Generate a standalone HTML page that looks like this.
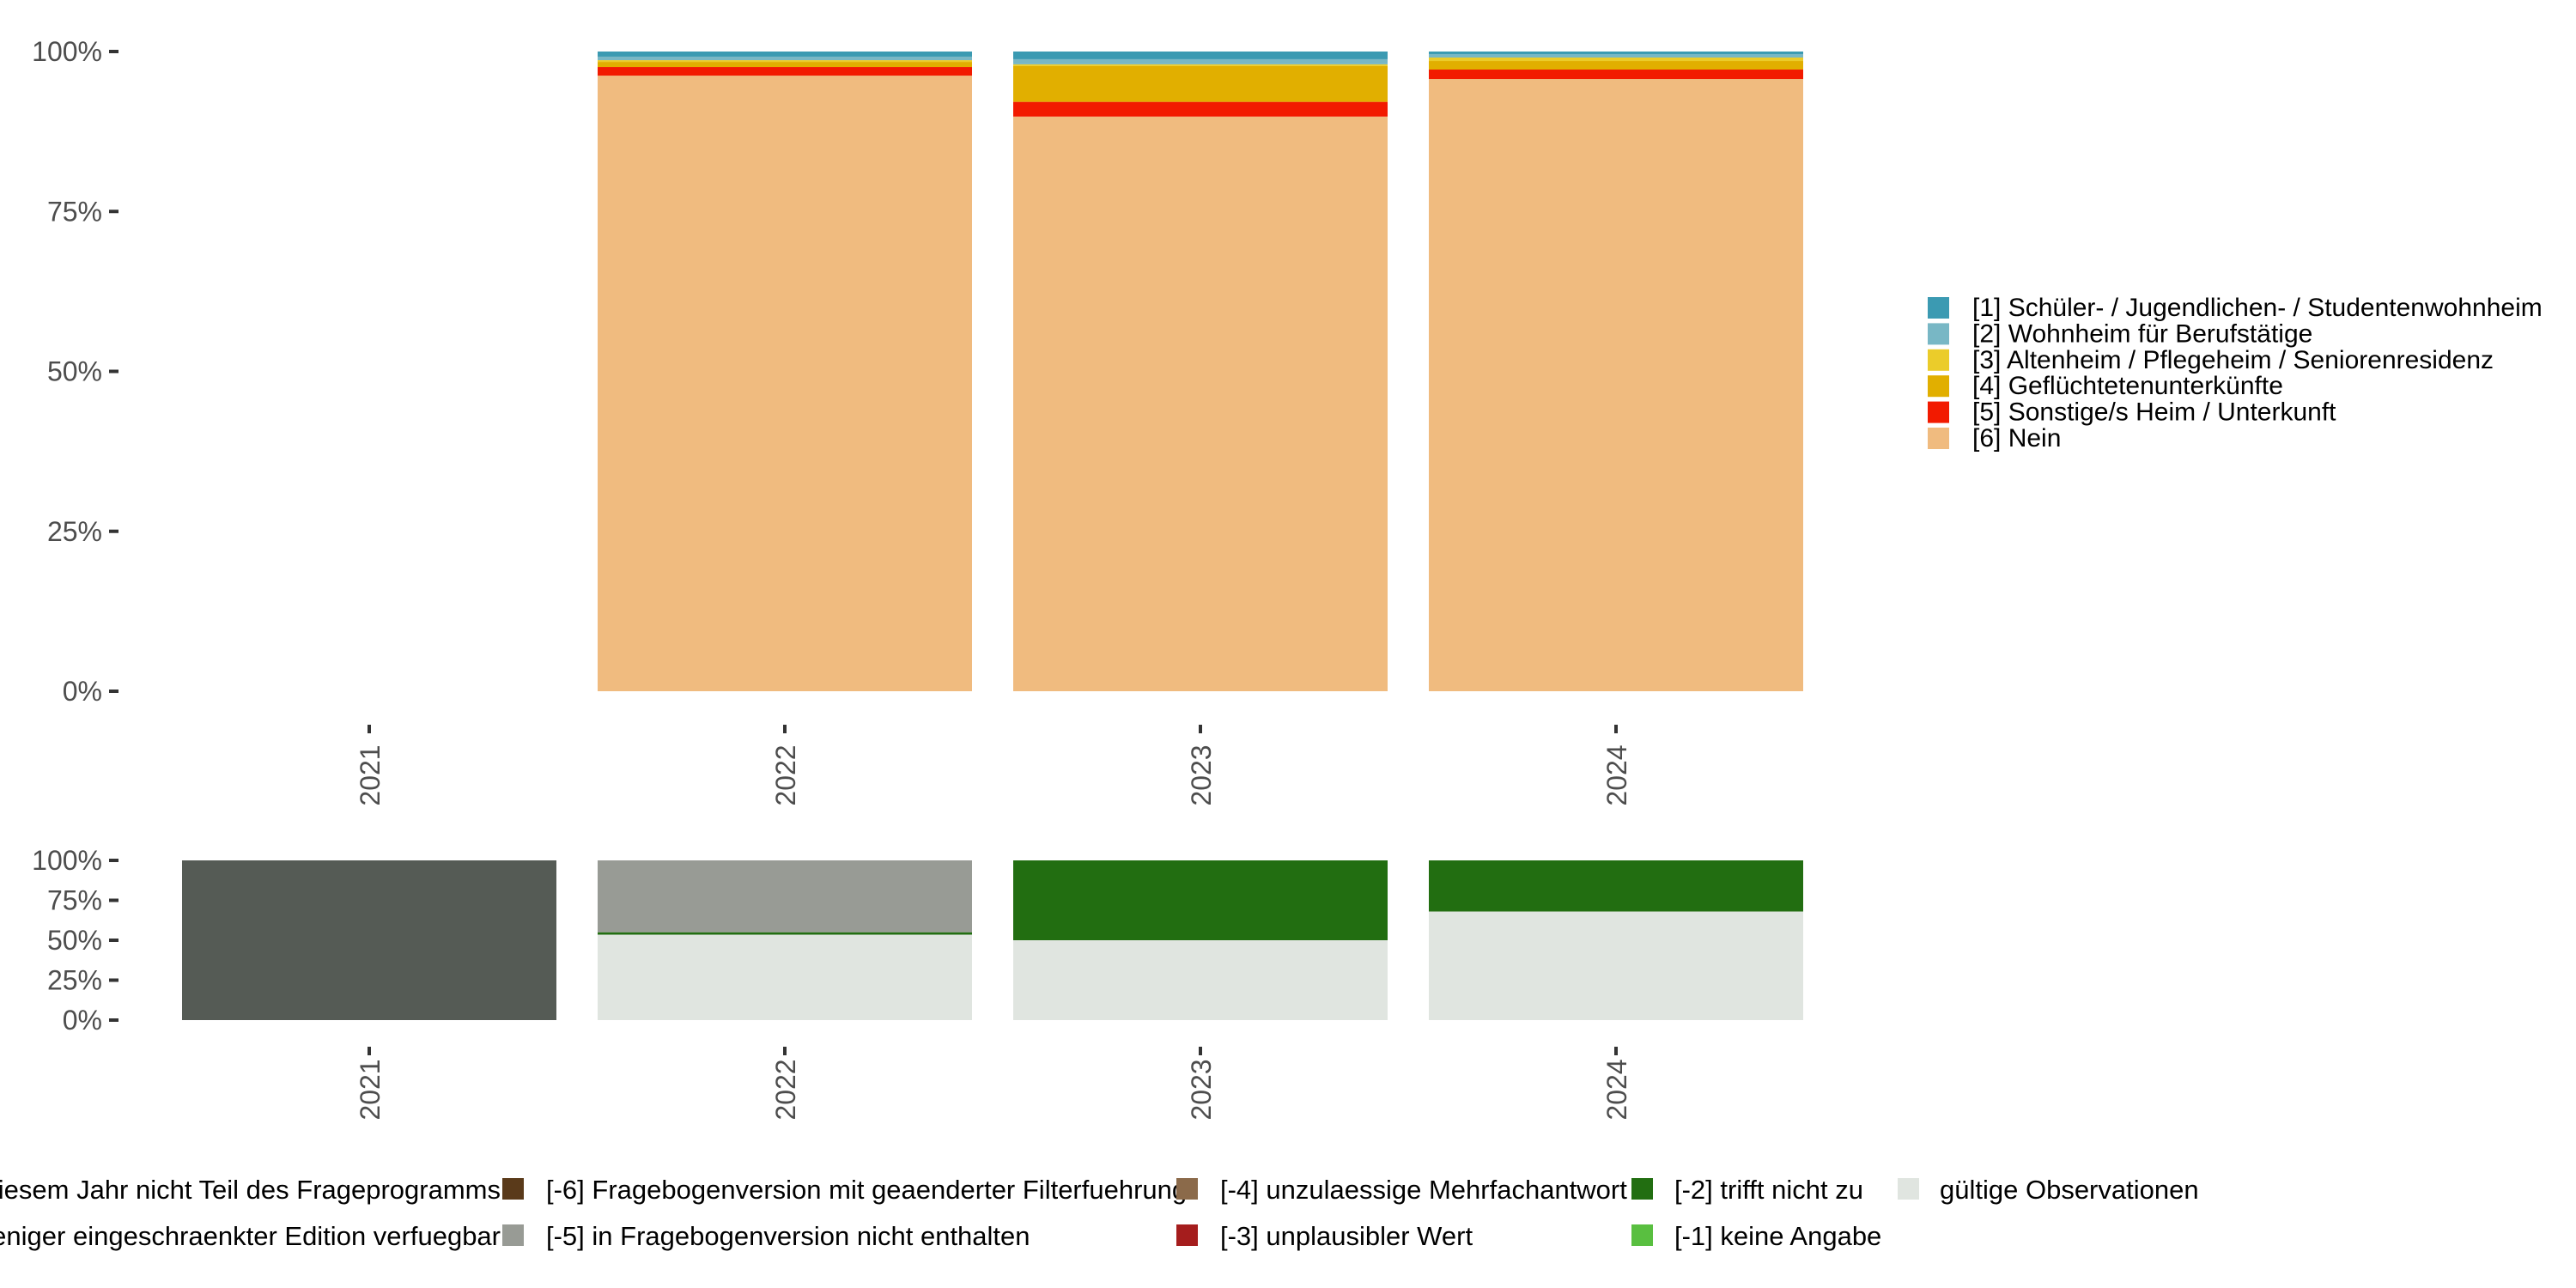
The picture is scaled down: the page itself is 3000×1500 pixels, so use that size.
<!DOCTYPE html>
<html><head><meta charset="utf-8">
<style>
html,body{margin:0;padding:0;background:#fff;}
svg{display:block;font-family:"Liberation Sans","DejaVu Sans",sans-serif;}
</style></head>
<body>
<svg id="chart" width="3000" height="1500" viewBox="0 0 3000 1500" xmlns="http://www.w3.org/2000/svg">
<rect width="3000" height="1500" fill="#fff"/>
<g id="top"></g>
<g id="bottom"></g>
<g id="legendR"></g>
<g id="legendB"></g>
</svg>
<script>
const years = ["2021","2022","2023","2024"];
const topCats = ["[1] Schüler- / Jugendlichen- / Studentenwohnheim","[2] Wohnheim für Berufstätige","[3] Altenheim / Pflegeheim / Seniorenresidenz","[4] Geflüchtetenunterkünfte","[5] Sonstige/s Heim / Unterkunft","[6] Nein"];
const topColors = ["#3b9ab2","#78b7c5","#ebcc2a","#e1af00","#f21a00","#f0bb7f"];
const v2021 = [0,0,0,0,0,0];
const v2022 = [0.8,0.55,0.27,0.8,1.35,96.23];
const v2023 = [1.2,0.8,0.27,5.6,2.3,89.83];
const v2024 = [0.4,0.54,0.54,1.34,1.48,95.7];
const topValues = [v2021,v2022,v2023,v2024];
const botCats = ["[-8] in diesem Jahr nicht Teil des Frageprogramms","[-7] nur in weniger eingeschraenkter Edition verfuegbar","[-6] Fragebogenversion mit geaenderter Filterfuehrung","[-5] in Fragebogenversion nicht enthalten","[-4] unzulaessige Mehrfachantwort","[-3] unplausibler Wert","[-2] trifft nicht zu","[-1] keine Angabe","gültige Observationen"];
const botColors = ["#555b55","#989b95","#5a3a1a","#989b95","#8b6a4a","#a51d1d","#226e11","#59bf40","#e0e5e0"];
// bottom values: [-8],[-5],[-2],gültig
const b2021 = [100,0,0,0];
const b2022 = [0,45,1.5,53.5];
const b2023 = [0,0,50,50];
const b2024 = [0,0,32,68];
const botValues = [b2021,b2022,b2023,b2024];
const botIdx = [0,3,6,8];
const yTicks = [0,25,50,75,100];
const yTickLabels = ["0%","25%","50%","75%","100%"];

const NS="http://www.w3.org/2000/svg";
function mk(tag,attrs,parent){const e=document.createElementNS(NS,tag);for(const k in attrs)e.setAttribute(k,attrs[k]);parent.appendChild(e);return e;}
const xC = i => 430 + i*484;
const BW = 436;
function drawPanel(g, y0, y1, values, colorsFor, nameFor, tickY, labY, order){
  const ys = v => y0 - (v/100)*(y0-y1);
  yTicks.forEach((t,i)=>{
    const l=mk('line',{x1:127,x2:138,y1:ys(t),y2:ys(t),stroke:'#333','stroke-width':4},g);
    
    
    const tx=mk('text',{x:119,y:ys(t)+11,'text-anchor':'end','font-size':32,fill:'#4d4d4d'},g);
    tx.textContent=yTickLabels[i];
    
    
  });
  years.forEach((yr,i)=>{
    let cum=0;
    order.forEach(k=>{
      const v=values[i][k]; if(v<=0) return;
      const r=mk('rect',{x:xC(i)-BW/2,y:ys(cum+v),width:BW,height:ys(cum)-ys(cum+v),fill:colorsFor(k)},g);
      
      
      cum+=v;
    });
    const tk=mk('line',{x1:xC(i),x2:xC(i),y1:tickY,y2:tickY+10,stroke:'#333','stroke-width':4},g);
    
    
    const t=mk('text',{x:0,y:0,'font-size':32,fill:'#4d4d4d','text-anchor':'middle',transform:`translate(${xC(i)+12},${labY}) rotate(-90)`},g);
    t.textContent=yr;
    
    
  });
}
drawPanel(document.getElementById('top'),805,60,topValues,k=>topColors[k],k=>'cat'+(k+1),844,903,[5,4,3,2,1,0]);
drawPanel(document.getElementById('bottom'),1188,1002,botValues,k=>botColors[botIdx[k]],k=>'status'+k,1219,1269,[3,2,1,0]);

const lr=document.getElementById('legendR');
topCats.forEach((c,i)=>{
  const y=346+i*30.4;
  const s=mk('rect',{x:2245,y:y,width:25,height:25,fill:topColors[i]},lr);
  
  
  const t=mk('text',{x:2297,y:y+22,'font-size':30,fill:'#000'},lr);
  t.textContent=c;
  
  
});

const lb=document.getElementById('legendB');
const cols=[{sx:null,tx:585},{sx:585,tx:636},{sx:1370,tx:1421},{sx:1900,tx:1950},{sx:2210,tx:2259}];
const grid=[[0,0],[0,1],[1,0],[1,1],[2,0],[2,1],[3,0],[3,1],[4,0]];
botCats.forEach((c,i)=>{
  const [ci,ri]=grid[i];
  const y=1385+ri*54;
  if(ci===0){
    const t=mk('text',{x:583,y:y+11,'font-size':31,fill:'#000','text-anchor':'end'},lb);
    t.textContent=c;
    
    
    return;
  }
  const col=cols[ci];
  const s=mk('rect',{x:col.sx,y:y-13,width:25,height:25,fill:botColors[i]},lb);
  
  
  const t=mk('text',{x:col.tx,y:y+11,'font-size':31,fill:'#000'},lb);
  t.textContent=c;
  
  
});
</script>
</body></html>
